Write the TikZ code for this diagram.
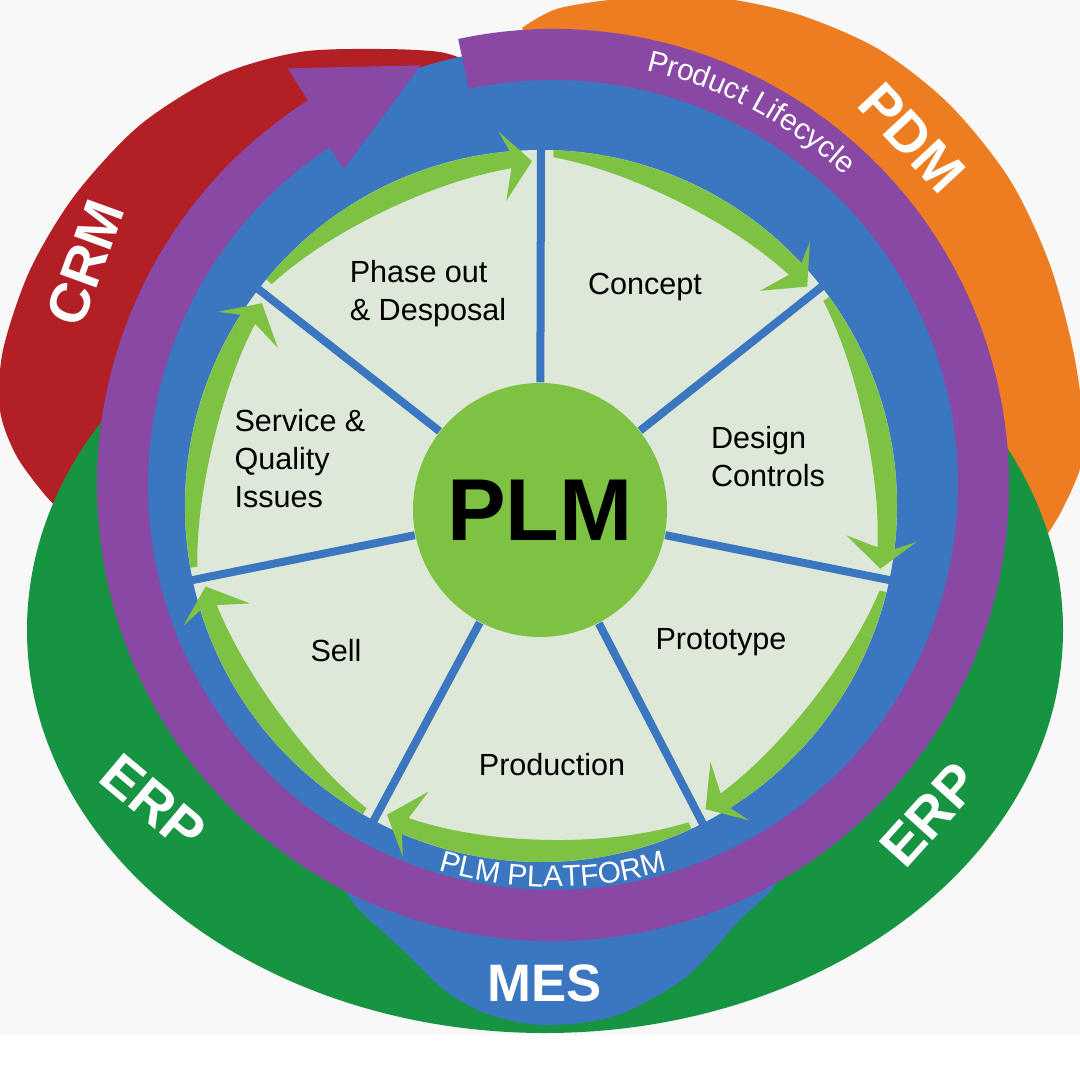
\documentclass[tikz,border=0pt]{standalone}
\usepackage{fontspec}
\setmainfont{Liberation Sans}
\usepackage{tikz}
\usetikzlibrary{calc,positioning,decorations.text}

\definecolor{crmred}{RGB}{178,31,36}
\definecolor{pdmorange}{RGB}{238,125,34}
\definecolor{erpgreen}{RGB}{23,148,66}
\definecolor{lifepurple}{RGB}{137,72,164}
\definecolor{platblue}{RGB}{59,118,193}
\definecolor{leafgreen}{RGB}{125,194,66}
\definecolor{piefill}{RGB}{222,232,216}
\definecolor{paper}{RGB}{248,248,248}

\begin{document}
\begin{tikzpicture}[
    stage/.style={font=\fontsize{8.7}{10.8}\selectfont, text=black, inner sep=0pt},
    band/.style={font=\fontsize{16}{16}\selectfont\bfseries, text=white, inner sep=0pt},
    spoke/.style={draw=platblue, line width=0.08cm}
  ]
    \clip (0,0) rectangle (10.8,-10.8);
    \fill[paper] (0,0) rectangle (10.8,-10.35);
    \coordinate (hub) at (5.41,-5.06);
    \coordinate (ring) at (5.53,-4.85);

    % outer systems
    \fill[crmred] plot[smooth] coordinates {(4.70,-0.62) (4.40,-0.52) (3.80,-0.49) (3.00,-0.52) (2.20,-0.75) (1.40,-1.25) (0.75,-1.95) (0.30,-2.70) (0.03,-3.50) (0.00,-4.10) (0.16,-4.55) (0.45,-4.95) (0.70,-5.20)} -- (3.00,-4.50) -- cycle;
    \fill[pdmorange] plot[smooth] coordinates {(5.22,-0.28) (5.60,-0.08) (6.40,0.03) (7.20,0.02) (8.00,-0.15) (8.80,-0.50) (9.50,-1.05) (10.10,-1.80) (10.50,-2.65) (10.75,-3.60) (10.84,-4.50) (10.62,-5.10) (10.30,-5.60)} -- (8.00,-5.60) -- (6.80,-3.00) -- cycle;
    \fill[erpgreen] (5.45,-6.30) ellipse [x radius=5.18, y radius=4.03];
    \fill[platblue] plot[smooth] coordinates {(3.30,-8.60) (3.55,-9.05) (4.03,-9.50) (4.47,-9.92) (4.90,-10.15) (5.45,-10.25) (6.15,-10.16) (6.85,-9.78) (7.38,-9.22) (7.75,-8.85) (7.70,-8.60)} -- cycle;
    \fill[platblue] (ring) circle (4.38);

    % product lifecycle arrow
    \begin{scope}[shift={(ring)}]
        \fill[lifepurple] (102:4.56) arc[start angle=102, end angle=-237.5, radius=4.56]
            -- (-237.5:4.94) -- (-252.5:4.40) -- (-236.5:3.79) -- (-236.5:4.05)
            arc[start angle=-236.5, end angle=102, radius=4.05] -- cycle;
        \path[decorate, decoration={text along path, text align=center, text color=white,
            text={|\fontsize{8.5}{10}\selectfont|Product Lifecycle}}]
            (92:4.25) arc[start angle=92, end angle=32, radius=4.25];
        \path[decorate, decoration={text along path, text align=center, text color=white,
            text={|\fontsize{8.5}{10}\selectfont|PLM PLATFORM}}]
            (-130:4.02) arc[start angle=-130, end angle=-50, radius=4.02];
    \end{scope}

    \fill[piefill] (hub) circle (3.56);

    % stage arrows
    \begin{scope}[shift={(hub)}]
        \foreach \s/\e in {90/38, 38/-12, -12/-63, -63/-118, -118/-168, -168/-217.5, 142.5/90} {
            \pgfmathsetmacro\bodystart{\s-2}
            \pgfmathsetmacro\bodyend{\e+5}
            \fill[leafgreen]
                plot[domain=0:1, samples=40, variable=\t]
                    ({3.56*cos(\bodystart+\t*(\bodyend-\bodystart))}, {3.56*sin(\bodystart+\t*(\bodyend-\bodystart))})
                -- ({\e+6.5}:3.77) -- ({\e+1.5}:3.45) -- ({\e+6.5}:3.07)
                -- plot[domain=0:1, samples=40, variable=\t]
                    ({(3.49-0.10*(1-\t)-0.10*sin(180*\t))*cos(\bodyend+\t*(\bodystart-\bodyend))},
                     {(3.49-0.10*(1-\t)-0.10*sin(180*\t))*sin(\bodyend+\t*(\bodystart-\bodyend))})
                -- cycle;
        }
    \end{scope}

    \node[circle, fill=leafgreen, minimum size=2.54cm, inner sep=0pt, font=\fontsize{25}{25}\selectfont\bfseries] (plm) at (5.40,-5.10) {PLM};

    \foreach \ang [count=\i] in {90, 38, -12, -63, -118, -168, 142.5}
        \coordinate (rim\i) at ($(hub)+(\ang:3.58)$);
    \foreach \i in {1,...,7}
        \draw[spoke] (plm) -- (rim\i);

    % stages
    \node[stage, align=left] (phaseout) at (4.28,-2.94) {Phase out\\\& Desposal};
    \node[stage] (concept) at (6.45,-2.87) {Concept};
    \node[stage, align=left] (design) at (7.68,-4.57) {Design\\Controls};
    \node[stage] (proto) at (7.21,-6.42) {Prototype};
    \node[stage] (prod) at (5.52,-7.65) {Production};
    \node[stage] (sell) at (3.36,-6.51) {Sell};
    \node[stage, align=left] (service) at (3.00,-4.59) {Service \&\\Quality\\Issues};

    % systems
    \node[band, rotate=70] (crm) at (0.85,-2.63) {CRM};
    \node[band, rotate=-47] (pdm) at (9.12,-1.38) {PDM};
    \node[band, rotate=-40] (erpleft) at (1.53,-8.03) {ERP};
    \node[band, rotate=48] (erpright) at (9.30,-8.15) {ERP};
    \node[band, font=\fontsize{15}{15}\selectfont\bfseries] (mes) at (5.45,-9.83) {MES};
\end{tikzpicture}
\end{document}
